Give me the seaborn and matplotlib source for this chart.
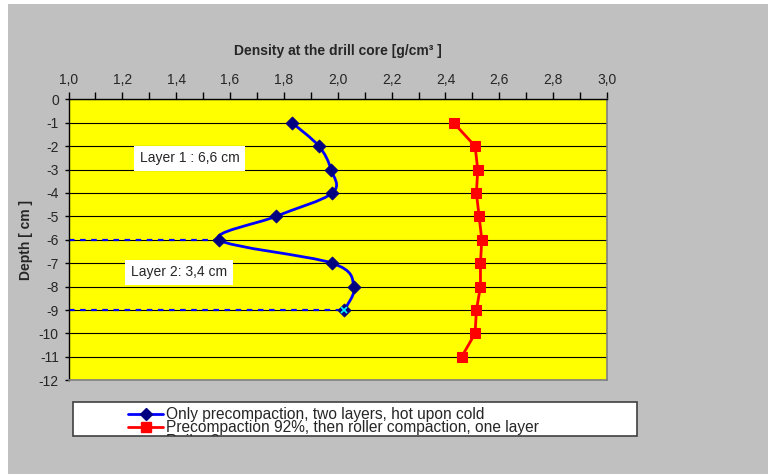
import matplotlib.pyplot as plt
import matplotlib.patches as mpatches
from matplotlib.path import Path
from matplotlib.lines import Line2D
from matplotlib.transforms import Bbox, TransformedBbox
import numpy as np
import seaborn as sns

# data
depth_blue = [-1, -2, -3, -4, -5, -6, -7, -8, -9]
density_blue = [1.83, 1.93, 1.975, 1.98, 1.77, 1.56, 1.98, 2.06, 2.025]
depth_red = [-1, -2, -3, -4, -5, -6, -7, -8, -9, -10, -11]
density_red = [2.43, 2.51, 2.52, 2.515, 2.525, 2.535, 2.53, 2.53, 2.515, 2.51, 2.46]
layer_depths = [-6, -9]
layer_texts = ["Layer 1 : 6,6 cm", "Layer 2: 3,4 cm"]
layer_text_x = [1.45, 1.41]
layer_text_y = [-2.51, -7.38]
x_ticks = [1.0, 1.2, 1.4, 1.6, 1.8, 2.0, 2.2, 2.4, 2.6, 2.8, 3.0]
x_tick_labels = ["1,0", "1,2", "1,4", "1,6", "1,8", "2,0", "2,2", "2,4", "2,6", "2,8", "3,0"]
y_ticks = [0, -1, -2, -3, -4, -5, -6, -7, -8, -9, -10, -11, -12]
legend_labels = [
    "Only precompaction, two layers, hot upon cold",
    "Precompaction 92%, then roller compaction, one layer",
    "Reihe 3",
]

sns.set_theme(style="white")
plt.rcParams["font.family"] = ["Liberation Sans", "DejaVu Sans"]
plt.rcParams["axes.unicode_minus"] = False

W, H = 768, 474
fig = plt.figure(figsize=(W / 100, H / 100), dpi=100, facecolor="white")
# grey chart area with thin white strip at top/left
fig.patches.append(mpatches.Rectangle((8 / W, 0), 1, 470 / H, transform=fig.transFigure,
                                      facecolor="#C0C0C0", edgecolor="none", zorder=-10))

ax = fig.add_axes([68.5 / W, 1 - 380.3 / H, (607 - 68.5) / W, (380.3 - 99.3) / H])
ax.set_facecolor("#FFFF00")
ax.set_xlim(1.0, 3.0)
ax.set_ylim(-12, 0)

# horizontal gridlines
ax.set_yticks(y_ticks)
ax.yaxis.grid(True, color="black", linewidth=0.8)
ax.xaxis.grid(False)
ax.set_axisbelow(True)

# x axis on top
ax.xaxis.tick_top()
ax.xaxis.set_label_position("top")
ax.set_xticks(x_ticks, x_tick_labels)
ax.set_xticks(np.arange(1.1, 3.0, 0.2), minor=True)
ax.tick_params(axis="x", which="both", top=True, bottom=False, direction="out",
               length=5, width=1, color="black", labelsize=10, pad=4)
ax.tick_params(axis="y", left=True, direction="out", length=3, width=1,
               color="black", labelsize=10, pad=4)
for s in ["left", "top"]:
    ax.spines[s].set_color("black")
    ax.spines[s].set_linewidth(1)
for s in ["right", "bottom"]:
    ax.spines[s].set_color("#808080")
    ax.spines[s].set_linewidth(1.2)

ax.set_xlabel("Density at the drill core [g/cm³ ]", fontsize=10, fontweight="bold", labelpad=13)
ax.set_ylabel("Depth [ cm ]", fontsize=10, fontweight="bold", labelpad=4)

# dashed layer boundaries
for d in layer_depths:
    xd = density_blue[depth_blue.index(d)]
    ax.plot([1.0, xd], [d, d], color="#0000FF", linewidth=1.6,
            linestyle=(0, (2.5, 2.5)), zorder=2, clip_on=False)

# smoothed blue curve (Catmull-Rom style bezier in screen space, like Excel)
pts = ax.transData.transform(np.column_stack([density_blue, depth_blue]))
verts = [pts[0]]
codes = [Path.MOVETO]
n = len(pts)
for i in range(n - 1):
    p0 = pts[max(i - 1, 0)]
    p1 = pts[i]
    p2 = pts[i + 1]
    p3 = pts[min(i + 2, n - 1)]
    c1 = p1 + (p2 - p0) / 6
    c2 = p2 - (p3 - p1) / 6
    verts += [c1, c2, p2]
    codes += [Path.CURVE4] * 3
verts = ax.transData.inverted().transform(np.array(verts))
ax.add_patch(mpatches.PathPatch(Path(verts, codes), facecolor="none",
                                edgecolor="#0000FF", linewidth=2, zorder=3))
sns.scatterplot(x=density_blue, y=depth_blue, marker="D", s=45, color="#000080",
                edgecolor="#000080", linewidth=0.5, ax=ax, zorder=4, legend=False)
ax.plot(density_blue[-1], depth_blue[-1], marker="x", color="#00FFFF",
        markersize=5, markeredgewidth=1.2, zorder=5)

# red series
sns.lineplot(x=density_red, y=depth_red, sort=False, estimator=None, color="#FF0000",
             linewidth=2, marker="s", markersize=7, markeredgecolor="#FF0000",
             ax=ax, zorder=4, legend=False)

# layer annotations
for tx, ty, t in zip(layer_text_x, layer_text_y, layer_texts):
    ax.text(tx, ty, t, ha="center", va="center", fontsize=10,
            bbox=dict(facecolor="white", edgecolor="none", pad=4), zorder=6)

# legend box (content clipped like the original)
box_rect = (73 / W, 1 - 436 / H, (637 - 73) / W, 34 / H)
fig.patches.append(mpatches.Rectangle(box_rect[:2], box_rect[2], box_rect[3],
                                      transform=fig.transFigure, facecolor="white",
                                      edgecolor="#404040", linewidth=1.2, zorder=5))
handles = [
    Line2D([], [], color="#0000FF", linewidth=2, marker="D", markersize=6,
           markerfacecolor="#000080", markeredgecolor="#000080"),
    Line2D([], [], color="#FF0000", linewidth=2, marker="s", markersize=7,
           markerfacecolor="#FF0000", markeredgecolor="#FF0000"),
    Line2D([], [], color="none"),
]
leg = fig.legend(handles, legend_labels, loc="upper left",
                 bbox_to_anchor=(128 / W, 1 - 407 / H), frameon=False,
                 fontsize=11.2, borderpad=0, borderaxespad=0, labelspacing=-0.1,
                 handlelength=2.25, handletextpad=0.2)
leg.set_zorder(6)
clip_box = TransformedBbox(Bbox.from_bounds(*box_rect), fig.transFigure)
for t in leg.get_texts():
    t.set_clip_box(clip_box)
    t.set_clip_on(True)
for h in leg.legend_handles:
    h.set_clip_box(clip_box)
    h.set_clip_on(True)

fig.savefig("out.png", dpi=100)
